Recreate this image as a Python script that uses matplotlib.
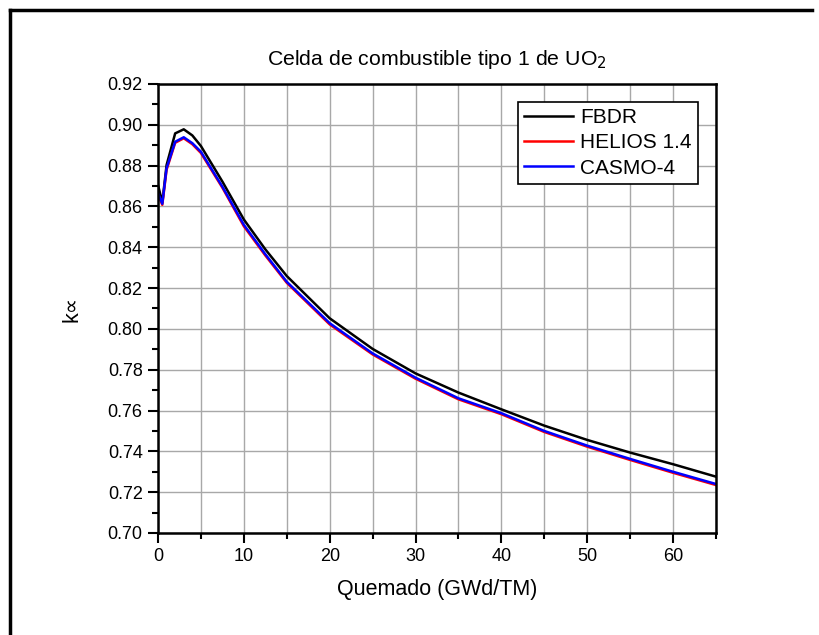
import matplotlib.pyplot as plt
from matplotlib.lines import Line2D
from matplotlib.ticker import MultipleLocator

plt.rcParams['font.family'] = ['Liberation Sans', 'DejaVu Sans']

# quemado (GWd/TM) y k-infinito de cada codigo
quemado = [0, 0.5, 1, 2, 3, 4, 5, 7.5, 10, 12.5, 15, 20, 25, 30, 35, 40, 45, 50, 55, 60, 65]
k_fbdr = [0.8705, 0.8620, 0.8803, 0.8958, 0.8978, 0.8948, 0.8896, 0.8722, 0.8536, 0.8390,
          0.8259, 0.8052, 0.7902, 0.7782, 0.7688, 0.7606, 0.7526, 0.7456, 0.7394, 0.7337, 0.7276]
k_helios = [0.8660, 0.8608, 0.8780, 0.8912, 0.8934, 0.8905, 0.8862, 0.8692, 0.8503, 0.8360,
            0.8226, 0.8022, 0.7875, 0.7756, 0.7655, 0.7582, 0.7495, 0.7423, 0.7358, 0.7295, 0.7235]
k_casmo = [0.8666, 0.8613, 0.8787, 0.8917, 0.8939, 0.8910, 0.8868, 0.8697, 0.8510, 0.8366,
           0.8231, 0.8028, 0.7880, 0.7761, 0.7660, 0.7587, 0.7500, 0.7428, 0.7363, 0.7300, 0.7240]

fig = plt.figure(figsize=(8.2, 6.35), dpi=100)
ax = fig.add_axes([158 / 820, 1 - 533 / 635, (716 - 158) / 820, (533 - 84) / 635])

ax.plot(quemado, k_fbdr, color='black', lw=1.8, label='FBDR')
ax.plot(quemado, k_helios, color='red', lw=1.8, label='HELIOS 1.4')
ax.plot(quemado, k_casmo, color='blue', lw=1.8, label='CASMO-4')

ax.set_xlim(0, 65)
ax.set_ylim(0.70, 0.92)
ax.xaxis.set_major_locator(MultipleLocator(10))
ax.xaxis.set_minor_locator(MultipleLocator(5))
ax.yaxis.set_major_locator(MultipleLocator(0.02))
ax.yaxis.set_minor_locator(MultipleLocator(0.01))
ax.yaxis.set_major_formatter(plt.FormatStrFormatter('%.2f'))

ax.grid(True, which='major', color='#a8a8a8', lw=1.0)
ax.grid(True, which='minor', axis='x', color='#a8a8a8', lw=1.0)
ax.set_axisbelow(True)

ax.tick_params(which='major', direction='out', length=7, width=1.5, labelsize=13,
               top=False, right=False, pad=4)
ax.tick_params(which='minor', direction='out', length=4, width=1.5, top=False, right=False)
for s in ax.spines.values():
    s.set_linewidth(1.8)

ax.set_xlabel('Quemado (GWd/TM)', fontsize=15.5, labelpad=10)
ax.set_ylabel('k\u221d', fontsize=15.5, labelpad=18)
ax.set_title('Celda de combustible tipo 1 de UO$_2$', fontsize=15.3, pad=14)

leg = ax.legend(loc='upper right', bbox_to_anchor=(0.968, 0.96), fontsize=15,
                frameon=True, fancybox=False, framealpha=1, edgecolor='black',
                handlelength=2.35, handletextpad=0.35, borderpad=0.3, labelspacing=0.3,
                borderaxespad=0)
leg.get_frame().set_linewidth(1.2)

# marco exterior de la figura
fig.add_artist(Line2D([10 / 820, 10 / 820], [0, 1 - 10 / 635], color='black', lw=2.5,
                      transform=fig.transFigure))
fig.add_artist(Line2D([10 / 820, 812 / 820], [1 - 10 / 635, 1 - 10 / 635], color='black',
                      lw=2.5, transform=fig.transFigure))

fig.savefig('out.png', dpi=100)
